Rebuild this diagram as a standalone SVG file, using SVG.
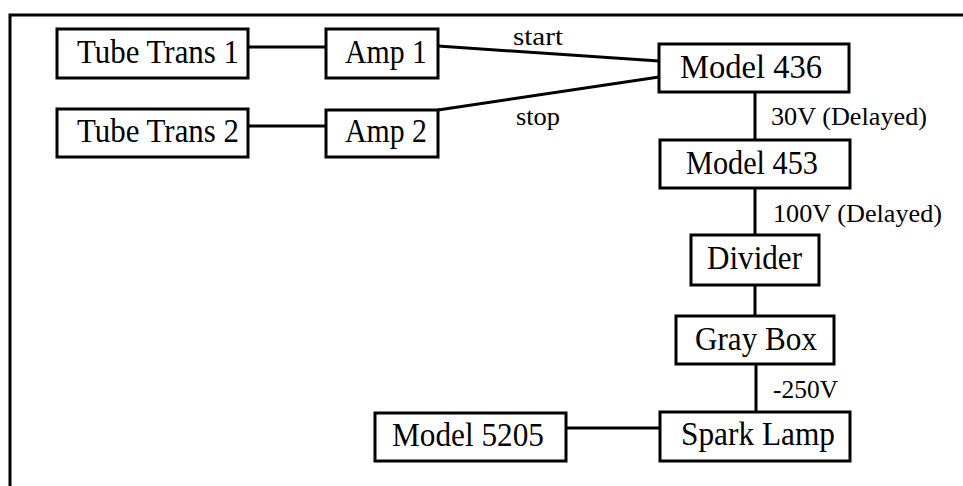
<svg xmlns="http://www.w3.org/2000/svg" width="963" height="486" viewBox="0 0 963 486">
<style>
.box{fill:#fff;stroke:#000;stroke-width:3}
.lbl{font-family:"Liberation Serif","Times New Roman",serif;font-size:34px;fill:#000}
.sm{font-family:"Liberation Serif","Times New Roman",serif;font-size:26px;fill:#000}
.ln{stroke:#000;stroke-width:3;fill:none}
</style>
<rect width="963" height="486" fill="#fff"/>
<g id="frame"><path class="ln" d="M10,486 V15 H963"/></g>
<g id="connectors">
<line class="ln" x1="248" y1="47" x2="326" y2="47"/>
<line class="ln" x1="248" y1="126" x2="326" y2="126"/>
<line class="ln" x1="438" y1="46" x2="659" y2="61"/>
<line class="ln" x1="438" y1="110" x2="659" y2="77"/>
<line class="ln" x1="755" y1="92" x2="755" y2="140"/>
<line class="ln" x1="755" y1="188" x2="755" y2="235"/>
<line class="ln" x1="755" y1="285" x2="755" y2="316"/>
<line class="ln" x1="756" y1="364" x2="756" y2="412"/>
<line class="ln" x1="566" y1="428" x2="660" y2="428"/>
<text class="sm" x="513" y="45" textLength="50" lengthAdjust="spacingAndGlyphs">start</text>
<text class="sm" x="516" y="125" textLength="44" lengthAdjust="spacingAndGlyphs">stop</text>
<text class="sm" x="771" y="125" textLength="156" lengthAdjust="spacingAndGlyphs">30V (Delayed)</text>
<text class="sm" x="773" y="222" textLength="169" lengthAdjust="spacingAndGlyphs">100V (Delayed)</text>
<text class="sm" x="773" y="398" textLength="65" lengthAdjust="spacingAndGlyphs">-250V</text>
</g>
<g id="tube1"><rect class="box" x="57" y="29" width="191" height="49"/><text class="lbl" x="77" y="63" textLength="162" lengthAdjust="spacingAndGlyphs">Tube Trans 1</text></g>
<g id="amp1"><rect class="box" x="326" y="29" width="112" height="49"/><text class="lbl" x="345" y="63" textLength="82" lengthAdjust="spacingAndGlyphs">Amp 1</text></g>
<g id="tube2"><rect class="box" x="57" y="109" width="191" height="48"/><text class="lbl" x="77" y="142" textLength="162" lengthAdjust="spacingAndGlyphs">Tube Trans 2</text></g>
<g id="amp2"><rect class="box" x="326" y="110" width="112" height="47"/><text class="lbl" x="345" y="142" textLength="82" lengthAdjust="spacingAndGlyphs">Amp 2</text></g>
<g id="model436"><rect class="box" x="659" y="44" width="190" height="48"/><text class="lbl" x="680" y="78" textLength="142" lengthAdjust="spacingAndGlyphs">Model 436</text></g>
<g id="model453"><rect class="box" x="660" y="140" width="190" height="48"/><text class="lbl" x="686" y="174" textLength="132" lengthAdjust="spacingAndGlyphs">Model 453</text></g>
<g id="divider"><rect class="box" x="691" y="235" width="128" height="50"/><text class="lbl" x="707" y="269" textLength="95" lengthAdjust="spacingAndGlyphs">Divider</text></g>
<g id="graybox"><rect class="box" x="676" y="316" width="158" height="48"/><text class="lbl" x="695" y="350" textLength="122" lengthAdjust="spacingAndGlyphs">Gray Box</text></g>
<g id="sparklamp"><rect class="box" x="660" y="412" width="190" height="49"/><text class="lbl" x="681" y="445" textLength="154" lengthAdjust="spacingAndGlyphs">Spark Lamp</text></g>
<g id="model5205"><rect class="box" x="375" y="413" width="191" height="48"/><text class="lbl" x="392" y="446" textLength="152" lengthAdjust="spacingAndGlyphs">Model 5205</text></g>
</svg>
